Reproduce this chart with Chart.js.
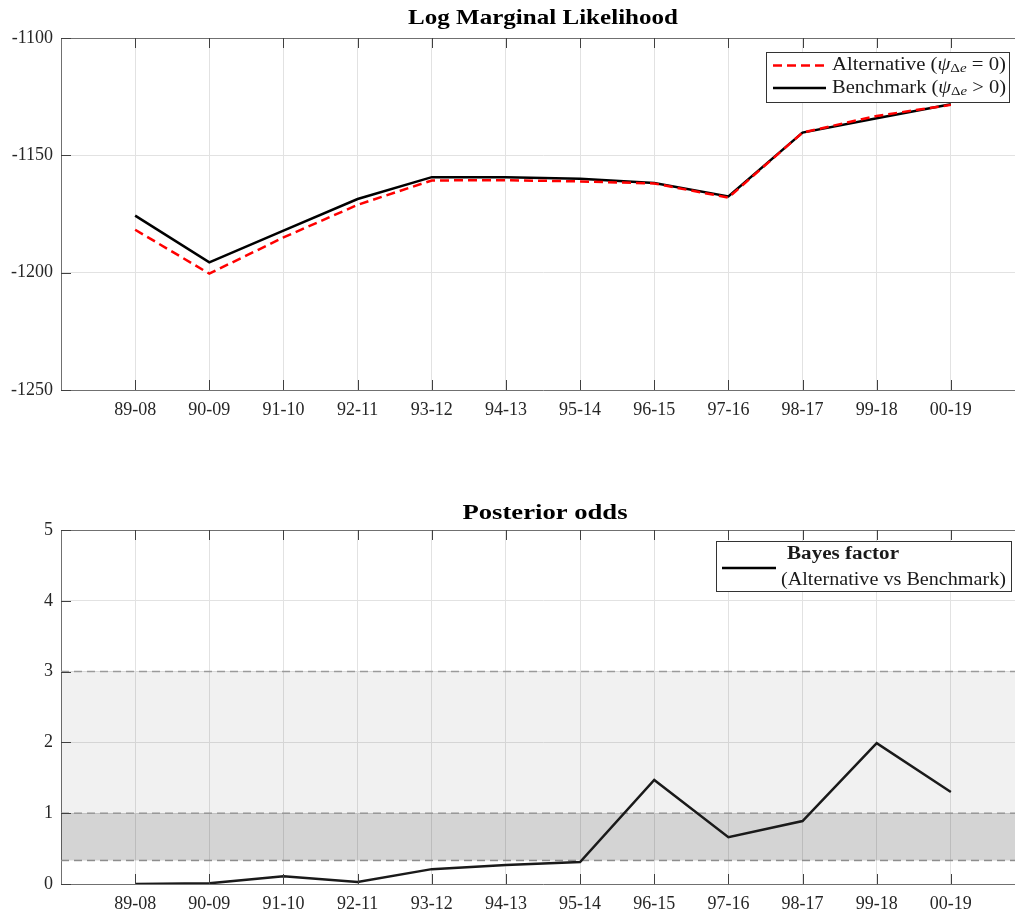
<!DOCTYPE html>
<html>
<head>
<meta charset="utf-8">
<script src="https://cdn.jsdelivr.net/npm/chart.js@4.4.1/dist/chart.umd.min.js"></script>
<style>
html,body{margin:0;padding:0;background:#fff;overflow:hidden;width:1015px;height:915px;}
.wrap{position:absolute;left:0;}
</style>
</head>
<body>
<div class="wrap" style="top:0;width:1045px;height:440px;"><canvas id="c1"></canvas></div>
<div class="wrap" style="top:440px;width:1045px;height:475px;"><canvas id="c2"></canvas></div>
<script>
const categories = ['89-08','90-09','91-10','92-11','93-12','94-13','95-14','96-15','97-16','98-17','99-18','00-19'];
const alternative = [-1181.7,-1200.4,-1185.0,-1171.1,-1160.7,-1160.6,-1161.1,-1162.0,-1168.0,-1140.3,-1133.2,-1128.5];
const benchmark = [-1175.7,-1195.6,-1182.1,-1168.6,-1159.3,-1159.3,-1160.0,-1161.8,-1167.5,-1140.3,-1134.2,-1128.2];
const bayesFactor = [0.0,0.01,0.11,0.03,0.21,0.27,0.31,1.47,0.66,0.89,1.99,1.30];
const topTicks = [-1250,-1200,-1150,-1100];
const bottomTicks = [0,1,2,3,4,5];
const bandLevels = [3, 1, 1/3];

const SERIF = '"Liberation Serif", "DejaVu Serif", serif';
const pts = arr => arr.map((v,i)=>({x:i+1,y:v}));

function xScaleOpts(h){
  return {
    type:'linear', min:0, max:categories.length+1,
    afterBuildTicks: ax => { ax.ticks = categories.map((c,i)=>({value:i+1})); },
    afterFit: ax => { ax.height = h; },
    grid:{color:'#e2e2e2', drawTicks:false, lineWidth:1},
    border:{display:true, color:'#707070', width:1},
    ticks:{autoSkip:false, maxRotation:0, padding:9, color:'#262626',
      font:{family:SERIF, size:18},
      callback: v => categories[v-1] || ''}
  };
}
function yScaleOpts(min,max,ticks){
  return {
    min, max,
    afterBuildTicks: ax => { ax.ticks = ticks.map(v=>({value:v})); },
    afterFit: ax => { ax.width = 61; },
    grid:{color:'#e2e2e2', drawTicks:false, lineWidth:1},
    border:{display:true, color:'#707070', width:1},
    ticks:{padding:8, color:'#262626', font:{family:SERIF, size:18},
      callback: v => String(v)}
  };
}

// draw a run of text parts, horizontally fitted to a target width
function drawFitted(ctx, x, y, parts, target, align){
  const fonts = parts.map(p=>p.font);
  let w = 0;
  parts.forEach(p=>{ ctx.font = p.font; p.w = ctx.measureText(p.t).width; w += p.w; });
  const sx = target / w;
  ctx.save();
  let startX = align === 'center' ? x - target/2 : x;
  ctx.translate(startX, y);
  ctx.scale(sx, 1);
  ctx.textAlign = 'left'; ctx.textBaseline = 'middle';
  let cx = 0;
  parts.forEach(p=>{ ctx.font = p.font; ctx.fillText(p.t, cx, p.dy || 0); cx += p.w; });
  ctx.restore();
}

const framePlugin = {
  id:'frame',
  afterDraw(chart, args, opts){
    const ctx = chart.ctx, a = chart.chartArea;
    const xs = chart.scales.x, ys = chart.scales.y;
    ctx.save();
    ctx.strokeStyle = '#707070'; ctx.lineWidth = 1;
    ctx.beginPath();
    ctx.moveTo(a.left, a.top+0.5); ctx.lineTo(a.right, a.top+0.5);
    ctx.moveTo(a.right-0.5, a.top); ctx.lineTo(a.right-0.5, a.bottom);
    ctx.stroke();
    ctx.strokeStyle = '#404040';
    ctx.beginPath();
    xs.ticks.forEach(t=>{
      const px = Math.round(xs.getPixelForValue(t.value))+0.5;
      ctx.moveTo(px, a.bottom); ctx.lineTo(px, a.bottom-10);
      ctx.moveTo(px, a.top); ctx.lineTo(px, a.top+10);
    });
    ys.ticks.forEach(t=>{
      const py = Math.round(ys.getPixelForValue(t.value))+0.5;
      ctx.moveTo(a.left, py); ctx.lineTo(a.left+10, py);
    });
    ctx.stroke();
    ctx.fillStyle = '#000';
    drawFitted(ctx, opts.titleX, opts.titleY, [{t:opts.title, font:'bold 21px '+SERIF}], opts.titleW, 'center');
    if (opts.legend) opts.legend(ctx);
    ctx.restore();
  }
};

const R = s => s+'px '+SERIF, I = s => 'italic '+s+'px '+SERIF;
function mathParts(pre, rel){
  return [{t:pre+' (', font:R(18)},{t:'ψ', font:I(18)},{t:'Δ', font:R(13), dy:4},{t:'e', font:I(13), dy:4},{t:' '+rel+' 0)', font:R(18)}];
}
function topLegend(ctx){
  const L=766, T=52, W=243, H=50;
  ctx.fillStyle='#fff'; ctx.fillRect(L,T,W,H);
  ctx.strokeStyle='#333'; ctx.lineWidth=1; ctx.strokeRect(L+0.5,T+0.5,W,H);
  ctx.lineWidth=2.5;
  ctx.strokeStyle='#ff0000'; ctx.setLineDash([9,5]);
  ctx.beginPath(); ctx.moveTo(773,65.5); ctx.lineTo(826,65.5); ctx.stroke();
  ctx.setLineDash([]);
  ctx.strokeStyle='#000';
  ctx.beginPath(); ctx.moveTo(773,88); ctx.lineTo(826,88); ctx.stroke();
  ctx.fillStyle='#1a1a1a';
  drawFitted(ctx, 832, 65, mathParts('Alternative','='), 174, 'left');
  drawFitted(ctx, 832, 88, mathParts('Benchmark','>'), 174, 'left');
}
function bottomLegend(ctx){
  const L=716, T=541-440, W=295, H=50;
  ctx.fillStyle='#fff'; ctx.fillRect(L,T,W,H);
  ctx.strokeStyle='#333'; ctx.lineWidth=1; ctx.strokeRect(L+0.5,T+0.5,W,H);
  ctx.lineWidth=2.5; ctx.strokeStyle='#000';
  ctx.beginPath(); ctx.moveTo(722,568-440); ctx.lineTo(776,568-440); ctx.stroke();
  ctx.fillStyle='#1a1a1a';
  drawFitted(ctx, 843, 554-440, [{t:'Bayes factor', font:'bold '+R(18)}], 112, 'center');
  drawFitted(ctx, 781, 580-440, [{t:'(Alternative vs Benchmark)', font:R(18)}], 225, 'left');
}

new Chart(document.getElementById('c1'), {
  type:'line',
  data:{datasets:[
    {label:'Alternative', data:pts(alternative), borderColor:'#ff0000', borderWidth:2.5, borderDash:[9,5], pointRadius:0, tension:0, order:0},
    {label:'Benchmark', data:pts(benchmark), borderColor:'#000000', borderWidth:2.5, pointRadius:0, tension:0, order:1}
  ]},
  options:{
    responsive:true, maintainAspectRatio:false, animation:false,
    layout:{padding:{top:38, right:20, left:0, bottom:0}},
    plugins:{legend:{display:false}, tooltip:{enabled:false},
      frame:{title:'Log Marginal Likelihood', titleX:543, titleY:19, titleW:270, legend:topLegend}},
    scales:{ x: xScaleOpts(50), y: yScaleOpts(-1250,-1100,topTicks) }
  },
  plugins:[framePlugin]
});

const bandData = lvl => [{x:0,y:lvl},{x:categories.length+1,y:lvl}];
new Chart(document.getElementById('c2'), {
  type:'line',
  data:{datasets:[
    {label:'Bayes factor', data:pts(bayesFactor), borderColor:'#1a1a1a', borderWidth:2.5, pointRadius:0, tension:0, order:0},
    {label:'b3', data:bandData(bandLevels[0]), borderColor:'#9a9a9a', borderWidth:1.5, borderDash:[8,5], pointRadius:0, fill:'+1', backgroundColor:'rgba(0,0,0,0.055)', order:1},
    {label:'b1', data:bandData(bandLevels[1]), borderColor:'#9a9a9a', borderWidth:1.5, borderDash:[8,5], pointRadius:0, fill:'+1', backgroundColor:'rgba(0,0,0,0.17)', order:2},
    {label:'b13', data:bandData(bandLevels[2]), borderColor:'#9a9a9a', borderWidth:1.5, borderDash:[8,5], pointRadius:0, fill:false, order:3}
  ]},
  options:{
    responsive:true, maintainAspectRatio:false, animation:false,
    layout:{padding:{top:90, right:20, left:0, bottom:0}},
    plugins:{legend:{display:false}, tooltip:{enabled:false},
      frame:{title:'Posterior odds', titleX:545, titleY:74, titleW:165, legend:bottomLegend}},
    scales:{ x: xScaleOpts(31), y: yScaleOpts(0,5,bottomTicks) }
  },
  plugins:[framePlugin]
});
</script>
</body>
</html>
